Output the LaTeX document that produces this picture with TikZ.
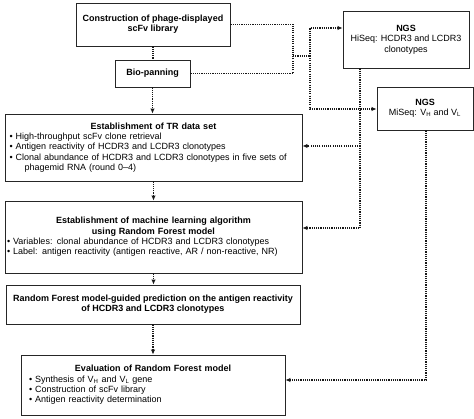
\documentclass[tikz,border=0pt]{standalone}
\usepackage{fontspec}
\setmainfont{Liberation Sans}
\usetikzlibrary{arrows.meta,calc}
\begin{document}
\begin{tikzpicture}[x=1pt,y=-1pt,
  font=\fontsize{9pt}{10.3pt}\selectfont,
  box/.style={draw=black!85, line width=0.9pt, fill=white, inner ysep=2pt},
  bold/.style={font=\fontsize{9pt}{10.3pt}\selectfont\bfseries},
  conn/.style={line width=1.1pt, dash pattern=on 1.1pt off 1.1pt, draw=black!90},
  arr/.style={conn, -{Latex[length=5pt,width=4.5pt]}}
]
\useasboundingbox (0,0) rectangle (474,419);

% main column
\node[box, bold, align=center, minimum width=154pt, minimum height=43pt] (b1) at (153,24.5)
  {Construction of phage-displayed\\scFv library};
\node[box, bold, align=center, minimum width=75pt, minimum height=27pt] (bio) at (152.5,73.5)
  {Bio-panning};
\node[box, text width=288pt, inner xsep=4.5pt, minimum height=67pt] (tr) at (153.5,147.5)
  {{\centering\bfseries Establishment of TR data set\par}
   \textbullet\ High-throughput scFv clone retrieval\par
   \textbullet\ Antigen reactivity of HCDR3 and LCDR3 clonotypes\par
   \makebox[\linewidth][s]{\textbullet\ Clonal abundance of HCDR3 and LCDR3 clonotypes in five sets of}\par
   \hspace*{15pt}phagemid RNA (round 0--4)};
\node[box, text width=293pt, inner xsep=2pt, minimum height=72pt] (ml) at (153.5,237)
  {{\centering\bfseries Establishment of machine learning algorithm\\using Random Forest model\par}
   \textbullet\ Variables: clonal abundance of HCDR3 and LCDR3 clonotypes\par
   \textbullet\ Label: antigen reactivity (antigen reactive, AR / non-reactive, NR)};
\node[box, bold, align=center, minimum width=294pt, minimum height=39pt] (rf) at (153,304.5)
  {Random Forest model-guided prediction on the antigen reactivity\\of HCDR3 and LCDR3 clonotypes};
\node[box, text width=248pt, inner xsep=8pt, minimum height=60pt] (ev) at (153,385)
  {{\centering\bfseries Evaluation of Random Forest model\par}
   \textbullet\ Synthesis of V\textsubscript{H} and V\textsubscript{L} gene\par
   \textbullet\ Construction of scFv library\par
   \textbullet\ Antigen reactivity determination};

% NGS boxes
\node[box, align=center, minimum width=126pt, minimum height=57pt] (ngs1) at (406,39.5)
  {\textbf{NGS}\\HiSeq: HCDR3 and LCDR3\\clonotypes};
\node[box, align=center, minimum width=96pt, minimum height=43pt] (ngs2) at (425,108.5)
  {\textbf{NGS}\\MiSeq: V\textsubscript{H} and V\textsubscript{L}};

% vertical main connectors
\draw[conn] (b1.south) -- (b1.south |- bio.north);
\draw[arr] (bio.south) -- (bio.south |- tr.north);
\draw[arr] (tr.south) -- (tr.south |- ml.north);
\draw[arr] (ml.south) -- (ml.south |- rf.north);
\draw[arr] (rf.south) -- (rf.south |- ev.north);

% branch to NGS
\coordinate (jm) at (293,56);
\coordinate (jc) at (310,56);
\coordinate (jt) at (310,28);
\coordinate (jd) at (310,109);
\draw[conn] (b1.east) -| (jm);
\draw[conn] (bio.east) -| (jm);
\draw[conn] (jm) -- (jc);
\draw[arr] (jc) |- (jt -| ngs1.west);
\draw[arr] (jc) |- (jd -| ngs2.west);

% NGS1 results
\coordinate (kt) at (360,146);
\coordinate (kb) at (360,228);
\draw[arr] (kt |- ngs1.south) |- (kb -| ml.east);
\draw[arr] (kt) -- (kt -| tr.east);

% NGS2 results
\coordinate (lb) at (426,380);
\draw[arr] (lb |- ngs2.south) |- (lb -| ev.east);
\end{tikzpicture}
\end{document}
